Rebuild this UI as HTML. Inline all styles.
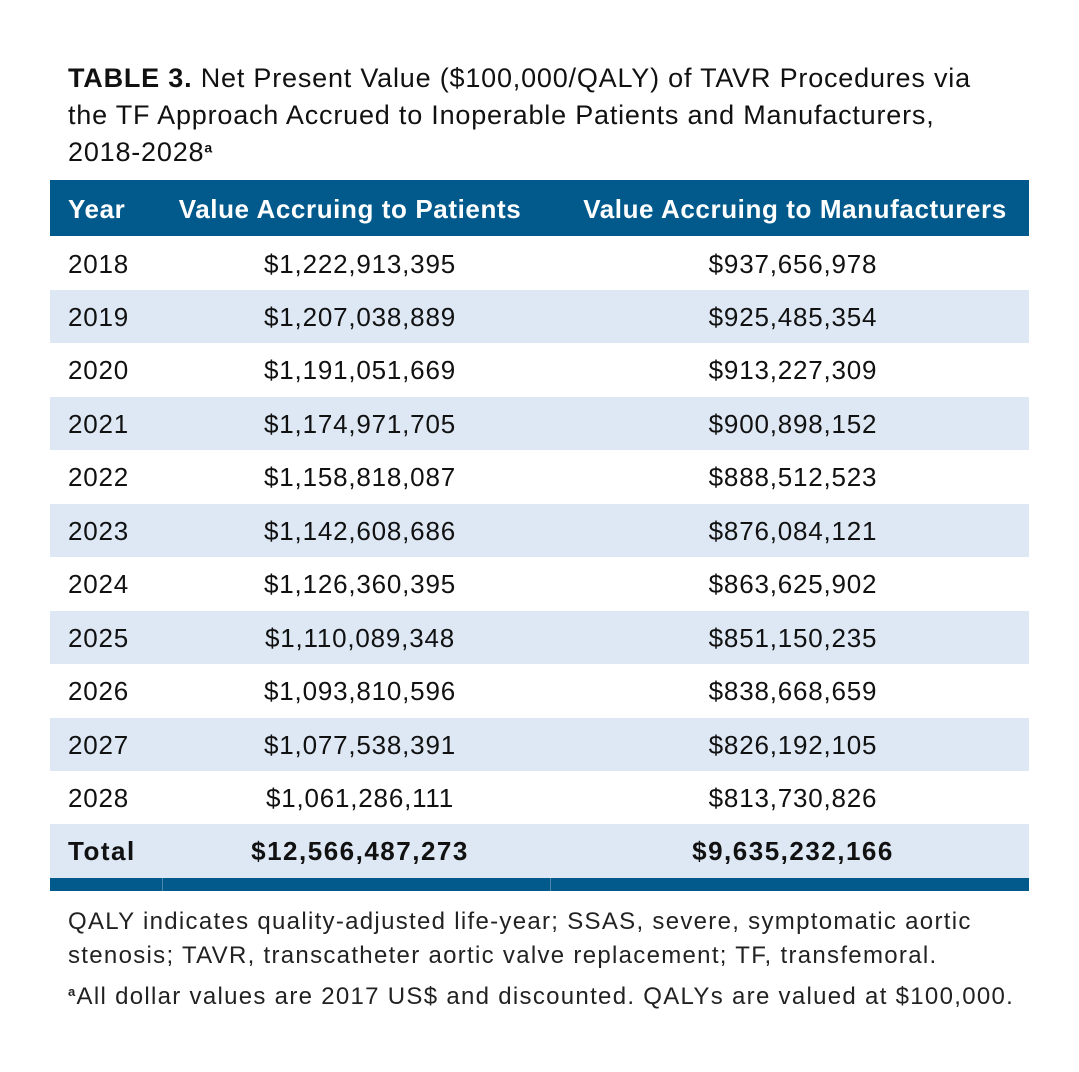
<!DOCTYPE html>
<html><head><meta charset="utf-8"><style>
body{margin:0;width:1079px;height:1072px;background:#fff;font-family:"Liberation Sans",sans-serif;color:#111;position:relative;overflow:hidden}
.t{position:absolute;white-space:nowrap}
.title{left:68px;font-size:27px;letter-spacing:0.8px;line-height:37px;top:60px}
sup{line-height:0;vertical-align:0.6em}
.row{position:absolute;left:50px;width:979px;height:53.4px}
.c{position:absolute;top:0;line-height:54px;font-size:26px;letter-spacing:0.8px;white-space:nowrap}
.y{left:18px}
.p{left:120px;width:380px;text-align:center}
.m{left:553px;width:380px;text-align:center}
.b{font-weight:bold;letter-spacing:1.5px}
.hdr{background:#025a8c;color:#fff;font-weight:bold;top:180px;height:56px}
.hdr .c{line-height:58px;font-size:26px;letter-spacing:0.6px}
.alt{background:#dde8f4}
.foot{left:68px;font-size:24px;letter-spacing:1.3px;color:#222}
</style></head><body>
<div class="t title"><b>TABLE 3.</b> Net Present Value ($100,000/QALY) of TAVR Procedures via<br>the TF Approach Accrued to Inoperable Patients and Manufacturers,<br>2018-2028<sup style="font-size:14px;font-weight:bold">a</sup></div>
<div class="row hdr">
<div class="c y">Year</div>
<div class="c p" style="left:90px;width:420px">Value Accruing to Patients</div>
<div class="c m" style="left:505px;width:480px">Value Accruing to Manufacturers</div>
</div>
<div id="rows"></div>
<div style="position:absolute;left:50px;top:878px;width:979px;height:13px;background:#025a8c">
<div style="position:absolute;left:112px;top:0;width:1px;height:13px;background:#4d86ab"></div>
<div style="position:absolute;left:500px;top:0;width:1px;height:13px;background:#4d86ab"></div>
</div>
<div class="t foot" style="top:905px;line-height:34px">QALY indicates quality-adjusted life-year; SSAS, severe, symptomatic aortic<br>stenosis; TAVR, transcatheter aortic valve replacement; TF, transfemoral.</div>
<div class="t foot" style="top:982px;line-height:30px"><sup style="font-size:13px;font-weight:bold">a</sup>All dollar values are 2017 US$ and discounted. QALYs are valued at $100,000.</div>
<script>
const years=["2018","2019","2020","2021","2022","2023","2024","2025","2026","2027","2028","Total"];
const patients=["$1,222,913,395","$1,207,038,889","$1,191,051,669","$1,174,971,705","$1,158,818,087","$1,142,608,686","$1,126,360,395","$1,110,089,348","$1,093,810,596","$1,077,538,391","$1,061,286,111","$12,566,487,273"];
const manufacturers=["$937,656,978","$925,485,354","$913,227,309","$900,898,152","$888,512,523","$876,084,121","$863,625,902","$851,150,235","$838,668,659","$826,192,105","$813,730,826","$9,635,232,166"];
const host=document.getElementById('rows');
years.forEach((y,i)=>{
  const r=document.createElement('div');
  r.className='row'+(i%2?' alt':'');
  r.style.top=(236.5+i*53.45)+'px';
  
  
  [[y,'y'],[patients[i],'p'],[manufacturers[i],'m']].forEach(([txt,cl])=>{
    const c=document.createElement('div');
    c.className='c '+cl+(y==='Total'?' b':'');
    c.textContent=txt;
    
    
    r.appendChild(c);
  });
  host.appendChild(r);
});
</script>
</body></html>
